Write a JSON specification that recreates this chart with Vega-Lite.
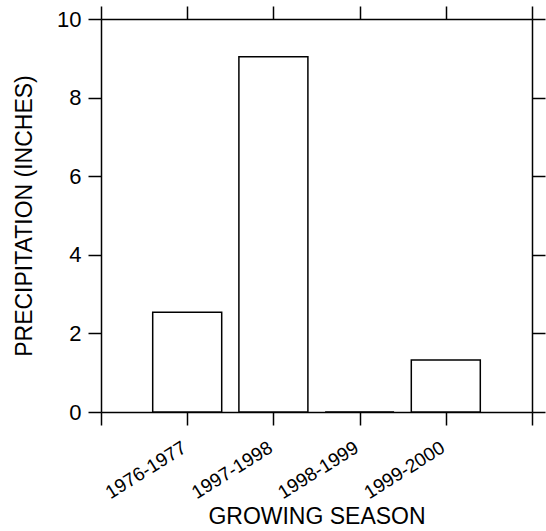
{
  "$schema": "https://vega.github.io/schema/vega-lite/v6.json",
  "autosize": "none",
  "width": 431,
  "height": 393,
  "padding": {"left": 101, "top": 19, "right": 14, "bottom": 119},
  "background": "white",
  "config": {
    "view": {"stroke": null},
    "font": "Liberation Sans",
    "axis": {
      "domainColor": "black",
      "domainWidth": 1.5,
      "tickColor": "black",
      "tickWidth": 1.5,
      "tickSize": 13,
      "grid": false,
      "labelColor": "black",
      "titleColor": "black",
      "labelFont": "Liberation Sans",
      "titleFont": "Liberation Sans",
      "titleFontWeight": "normal",
      "labelFontSize": 19,
      "titleFontSize": 23
    }
  },
  "data": {
    "values": [
      {"season": "1976-1977", "precip": 2.54},
      {"season": "1997-1998", "precip": 9.04},
      {"season": "1998-1999", "precip": 0.0},
      {"season": "1999-2000", "precip": 1.32}
    ]
  },
  "layer": [
    {
      "mark": {"type": "bar", "fill": "white", "stroke": "black", "strokeWidth": 1.5, "size": 69},
      "encoding": {
        "x": {
          "field": "season", "type": "ordinal",
          "scale": {"type": "point", "domain": ["_a", "1976-1977", "1997-1998", "1998-1999", "1999-2000", "_b"], "padding": 0},
          "axis": {
            "orient": "bottom",
            "title": "GROWING SEASON",
            "labelAngle": -32,
            "labelExpr": "indexof(datum.value, '-') > 0 ? datum.value : ''",
            "labelPadding": 13,
            "labelOffset": -8,
            "titlePadding": 3
          }
        },
        "y": {
          "field": "precip", "type": "quantitative",
          "scale": {"domain": [0, 10], "nice": false, "zero": true},
          "axis": {
            "orient": "left",
            "title": "PRECIPITATION (INCHES)",
            "values": [0, 2, 4, 6, 8, 10],
            "labelFontSize": 22,
            "labelPadding": 7,
            "titlePadding": 20
          }
        }
      }
    },
    {
      "mark": {"type": "bar", "fill": "white", "fillOpacity": 0, "strokeOpacity": 0, "size": 69},
      "encoding": {
        "x": {
          "field": "season", "type": "ordinal",
          "scale": {"type": "point", "domain": ["_a", "1976-1977", "1997-1998", "1998-1999", "1999-2000", "_b"], "padding": 0},
          "axis": {"orient": "top", "title": null, "labels": false}
        },
        "y": {
          "field": "precip", "type": "quantitative",
          "scale": {"domain": [0, 10], "nice": false, "zero": true},
          "axis": {"orient": "right", "title": null, "labels": false, "values": [0, 2, 4, 6, 8, 10]}
        }
      }
    }
  ],
  "resolve": {"axis": {"x": "independent", "y": "independent"}}
}
